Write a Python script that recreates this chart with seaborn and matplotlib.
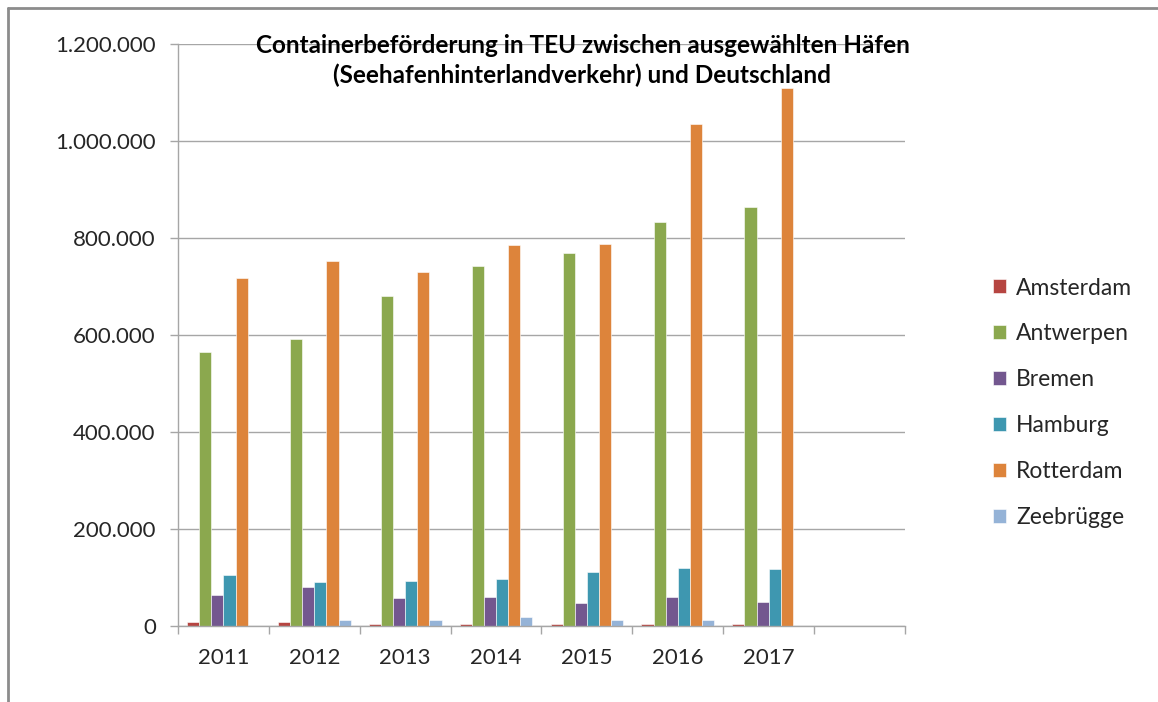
import pandas as pd
import matplotlib.pyplot as plt
import matplotlib.ticker as mticker
from matplotlib.lines import Line2D
import seaborn as sns

##-------------------------------------------
## data (TEU)
years = ['2011', '2012', '2013', '2014', '2015', '2016', '2017']
ports = ['Amsterdam', 'Antwerpen', 'Bremen', 'Hamburg', 'Rotterdam', 'Zeebrügge']

amsterdam = [9000, 9000, 4000, 4000, 4000, 4000, 4000]
antwerpen = [565000, 591000, 681000, 742000, 769000, 832000, 864000]
bremen = [63000, 80000, 57000, 59000, 47000, 59000, 50000]
hamburg = [105000, 90000, 92000, 97000, 112000, 120000, 117000]
rotterdam = [717000, 752000, 729000, 785000, 787000, 1036000, 1109000]
zeebruegge = [0, 12000, 12000, 19000, 12000, 12000, 0]

colors = ['#B64541', '#8BA84E', '#73578F', '#3E97B0', '#DD843B', '#95B3D7']

##-------------------------------------------
series = [amsterdam, antwerpen, bremen, hamburg, rotterdam, zeebruegge]
rows = []
for port, vals in zip(ports, series):
    for y, v in zip(years, vals):
        rows.append({'Jahr': y, 'Hafen': port, 'TEU': v})
data = pd.DataFrame(rows)

sns.set_style('white')
plt.rcParams['font.family'] = ['Lato', 'DejaVu Sans']

fig = plt.figure(figsize=(11.58, 7.02), dpi=100)
ax = fig.add_axes([0.1537, 0.1083, 0.6278, 0.829])

order = years + ['']
sns.barplot(data=data, x='Jahr', y='TEU', hue='Hafen', order=order, hue_order=ports,
            palette=colors, saturation=1, width=0.8, edgecolor='white', linewidth=0.4, ax=ax)

ax.set_ylim(0, 1200000)
ax.set_xlim(-0.5, 7.5)
ax.yaxis.set_major_locator(mticker.MultipleLocator(200000))
ax.yaxis.set_major_formatter(mticker.FuncFormatter(lambda v, p: f'{int(v):,}'.replace(',', '.')))
ax.grid(axis='y', color='#A6A6A6', linewidth=1)
ax.set_axisbelow(True)

# category boundaries as minor ticks, labels centred
ax.set_xticks([i - 0.5 for i in range(9)], minor=True)
ax.tick_params(axis='x', which='major', length=0, pad=16, labelsize=16, labelcolor='#262626')
ax.tick_params(axis='x', which='minor', length=6, width=1, color='#A6A6A6', direction='out')
ax.tick_params(axis='y', which='major', length=6, width=1, color='#A6A6A6', direction='out',
               labelsize=16, labelcolor='#262626', pad=10)
ax.xaxis.set_ticks_position('bottom')
ax.yaxis.set_ticks_position('left')
for s in ['top', 'right']:
    ax.spines[s].set_visible(False)
for s in ['left', 'bottom']:
    ax.spines[s].set_color('#A6A6A6')
    ax.spines[s].set_linewidth(1)
ax.set_xlabel('')
ax.set_ylabel('')

fig.text(0.503, 0.951, 'Containerbeförderung in TEU zwischen ausgewählten Häfen\n'
         '(Seehafenhinterlandverkehr) und Deutschland',
         ha='center', va='top', fontsize=17.5, fontweight='bold', color='black', linespacing=1.3)

ax.legend(loc='center left', bbox_to_anchor=(0.84, 0.426), bbox_transform=fig.transFigure,
          frameon=False, fontsize=16.5, handlelength=0.55, handleheight=0.55,
          handletextpad=0.45, labelspacing=1.09, labelcolor='#262626')

# outer frame of the chart area
fig.add_artist(Line2D([0.0065, 0.0065], [0, 0.9886], transform=fig.transFigure, color='#8C8C8C', lw=2))
fig.add_artist(Line2D([0.0065, 1], [0.9886, 0.9886], transform=fig.transFigure, color='#8C8C8C', lw=2))

plt.savefig('out.png', dpi=100)
